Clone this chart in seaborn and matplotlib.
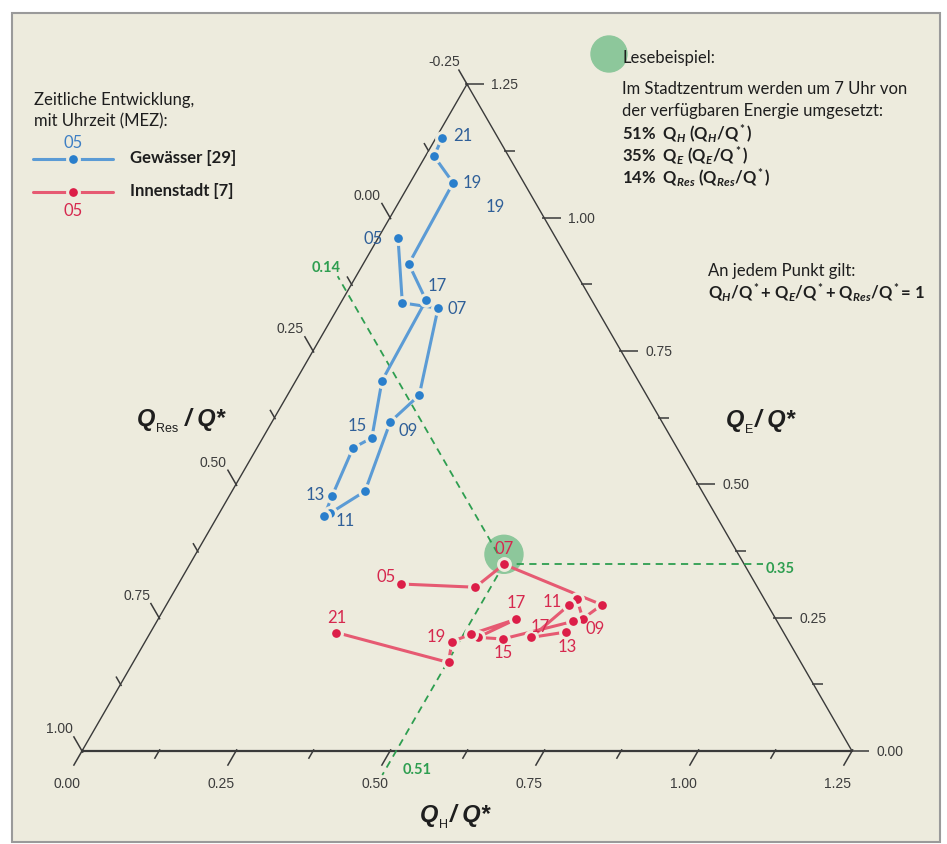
import numpy as np
import pandas as pd
import seaborn as sns
import matplotlib.pyplot as plt
from matplotlib.patches import Circle, Rectangle

# hourly values (MEZ): Q_H/Q* and Q_E/Q*
hours = ['05', '06', '07', '08', '09', '10', '11', '12', '13',
         '14', '15', '16', '17', '18', '19', '20', '21']
gew_qh = [0.032, 0.100, 0.163, 0.214, 0.192, 0.216, 0.180, 0.173, 0.167,
          0.156, 0.177, 0.140, 0.136, 0.074, 0.070, 0.014, 0.010]
gew_qe = [0.962, 0.840, 0.830, 0.667, 0.617, 0.487, 0.446, 0.440, 0.478,
          0.568, 0.587, 0.694, 0.845, 0.913, 1.065, 1.115, 1.149]
inn_qh = [0.362, 0.485, 0.510, 0.707, 0.689, 0.661, 0.654, 0.623, 0.674,
          0.676, 0.578, 0.536, 0.581, 0.522, 0.498, 0.512, 0.302]
inn_qe = [0.313, 0.307, 0.350, 0.274, 0.248, 0.285, 0.274, 0.213, 0.223,
          0.243, 0.210, 0.213, 0.247, 0.219, 0.205, 0.166, 0.222]

# reading example (Innenstadt, 07 Uhr)
ex_qh, ex_qe, ex_qres = 0.51, 0.35, 0.14

major = [0.0, 0.25, 0.5, 0.75, 1.0, 1.25]
minor = [0.125, 0.375, 0.625, 0.875, 1.125]
res_major = [-0.25, 0.0, 0.25, 0.5, 0.75, 1.0]
res_minor = [-0.125, 0.125, 0.375, 0.625, 0.875]

# label offsets in pixels (right, down)
gew_labels = {'05': (-25, 0), '07': (19, 0), '09': (18, 8), '11': (15, 7),
              '13': (-17, -2), '15': (-15, -13), '17': (11, -15),
              '19': (19, -1), '21': (21, -3)}
gew_extra = [('19', '19', (42, 23))]
inn_labels = {'05': (-15, -8), '07': (0, -16), '09': (12, 9), '11': (-17, -4),
              '13': (1, 14), '15': (0, 13), '17': (0, -17), '19': (-16, -6),
              '21': (0, -16)}
inn_extra = [('17', '12', (9, -11))]

bg = '#EDEBDD'
axc = '#3A3A3A'
blue_line, blue_pt, blue_txt = '#5B9BD5', '#2A7FCC', '#2F5F98'
red_line, red_pt, red_txt = '#E65A72', '#DC1E48', '#D6284E'
green, green_fill = '#2E9E50', '#8DC79B'

sns.set_style('white')
plt.rcParams['font.family'] = ['Lato', 'DejaVu Sans']
plt.rcParams['mathtext.fontset'] = 'custom'
plt.rcParams['mathtext.rm'] = 'Lato:bold'
plt.rcParams['mathtext.it'] = 'Lato:italic:bold'
plt.rcParams['mathtext.sf'] = 'Liberation Sans'

H = np.sqrt(3) / 2
S = 616.0  # pixels per unit


def tern(qh, qe):
    qh = np.asarray(qh, dtype=float)
    qe = np.asarray(qe, dtype=float)
    return qh + qe / 2, qe * H


def px(x, y):
    return (x - 82) / S, (752 - y) / S


fig = plt.figure(figsize=(9.47, 8.45), dpi=100)
fig.patch.set_facecolor('white')
ax = fig.add_axes([0, 0, 1, 1])
ax.axis('off')

x0, y0 = px(12, 843)
ax.add_patch(Rectangle((x0, y0), (940 - 12) / S, (843 - 14) / S,
                       facecolor=bg, edgecolor='#9A9A9A', lw=1.5, zorder=0))

# triangle
tx, ty = tern([0, 1.25, 0, 0], [0, 0, 1.25, 0])
ax.plot(tx, ty, color=axc, lw=1.0, zorder=1)
ax.plot(tx[:2], ty[:2], color=axc, lw=1.6, zorder=1)


def tick(x, y, dx, dy, length, lw=1.1):
    L = length / S
    ax.plot([x - dx * 2 / S, x + dx * L], [y - dy * 2 / S, y + dy * L],
            color=axc, lw=lw, solid_capstyle='butt', zorder=1)
    return x + dx * L, y + dy * L


tkw = dict(fontsize=10, color='#3C3C3C', family='Liberation Sans')
for v in major:
    x, y = tern(v, 0)
    ex, ey = tick(x, y, -0.5, -H, 17)
    ax.text(ex - 6 / S, ey - 17 / S, f'{v:.2f}', ha='center', va='center', **tkw)
    x, y = tern(1.25 - v, v)
    ex, ey = tick(x, y, 1, 0, 17)
    ax.text(ex + 7 / S, ey, f'{v:.2f}', ha='left', va='center', **tkw)
for r in res_major:
    x, y = tern(0, 1 - r)
    ex, ey = tick(x, y, -0.5, H, 17)
    ax.text(ex - 14 / S, ey + 8 / S, f'{r:.2f}', ha='center', va='center', **tkw)
for v in minor:
    tick(*tern(v, 0), -0.5, -H, 9)
    tick(*tern(1.25 - v, v), 1, 0, 9)
for r in res_minor:
    tick(*tern(0, 1 - r), -0.5, H, 9)


# axis titles: Q, small subscript, "/ Q*"
def axis_title(xq, yq, sub, xslash):
    big = dict(fontsize=17, fontweight='bold', fontstyle='italic',
               family='Liberation Sans', color='#1E1E1E', va='center', ha='left')
    ax.text(*px(xq, yq), 'Q', **big)
    ax.text(*px(xq + 19, yq + 9), sub, fontsize=9, family='Liberation Sans',
            color='#1E1E1E', va='center', ha='left')
    ax.text(*px(xslash, yq), '/ Q*', **big)


axis_title(137, 420, 'Res', 185)
axis_title(726, 421, 'E', 755)
axis_title(420, 816, 'H', 450)

# reading-example guides
exx, exy = tern(ex_qh, ex_qe)
ax.add_patch(Circle((exx, exy + 10 / S), 19 / S, color=green_fill, zorder=2))
gkw = dict(color=green, lw=1.3, ls=(0, (4, 3)), zorder=2)
gx, gy = tern([ex_qh, -0.03], [ex_qe, ex_qe + ex_qh + 0.03])
ax.plot(gx, gy, **gkw)
gx, gy = tern([ex_qh, 0.93], [ex_qe, ex_qe])
ax.plot(gx, gy, **gkw)
gx, gy = tern([ex_qh, ex_qh], [ex_qe, -0.045])
ax.plot(gx, gy, **gkw)
lkw = dict(color=green, fontsize=10.5, fontweight='bold', ha='center', va='center')
ax.text(*px(326, 268), f'{ex_qres:.2f}', **lkw)
ax.text(*px(780, 569), f'{ex_qe:.2f}', **lkw)
ax.text(*px(417, 770), f'{ex_qh:.2f}', **lkw)

# data
df_g = pd.DataFrame({'hour': hours, 'qh': gew_qh, 'qe': gew_qe})
df_g['x'], df_g['y'] = tern(df_g.qh, df_g.qe)
df_i = pd.DataFrame({'hour': hours, 'qh': inn_qh, 'qe': inn_qe})
df_i['x'], df_i['y'] = tern(df_i.qh, df_i.qe)

for df, lc, pc in [(df_g, blue_line, blue_pt), (df_i, red_line, red_pt)]:
    sns.lineplot(data=df, x='x', y='y', sort=False, estimator=None, ax=ax,
                 color=lc, lw=2.2, marker='o', markersize=8.5,
                 markerfacecolor=pc, markeredgecolor=bg, markeredgewidth=2.2,
                 legend=False, zorder=3)


def label(df, hour, text, off, col):
    row = df[df.hour == hour].iloc[0]
    ax.annotate(text, (row.x, row.y), xytext=(off[0] * 0.72, -off[1] * 0.72),
                textcoords='offset points', ha='center', va='center',
                color=col, fontsize=12, zorder=4)


for h, off in gew_labels.items():
    label(df_g, h, h, off, blue_txt)
for t, h, off in gew_extra:
    label(df_g, h, t, off, blue_txt)
for h, off in inn_labels.items():
    label(df_i, h, h, off, red_txt)
for t, h, off in inn_extra:
    label(df_i, h, t, off, red_txt)

# legend
tk = dict(fontsize=12, color='#1E1E1E', va='center', ha='left')
ax.text(*px(34, 100), 'Zeitliche Entwicklung,', **tk)
ax.text(*px(34, 121), 'mit Uhrzeit (MEZ):', **tk)
for yy, lc, pc, tc, name, ly in [(160, blue_line, blue_pt, '#3E7FC4', 'Gewässer [29]', 143),
                                 (193, red_line, red_pt, red_txt, 'Innenstadt [7]', 211)]:
    lx, lyy = zip(px(33, yy), px(113, yy))
    ax.plot(lx, lyy, color=lc, lw=2.2, zorder=3)
    ax.plot(*px(73, yy), 'o', ms=8.5, mfc=pc, mec=bg, mew=2.2, zorder=3)
    ax.text(*px(73, ly), '05', color=tc, fontsize=12, ha='center', va='center')
    ax.text(*px(130, yy - 2), name, fontsize=12, fontweight='bold',
            color='#1E1E1E', va='center', ha='left')

# reading example text
ax.add_patch(Circle(px(609, 55), 18 / S, color=green_fill, zorder=1))
ax.text(*px(622, 58), 'Lesebeispiel:', **tk)
ax.text(*px(622, 89), 'Im Stadtzentrum werden um 7 Uhr von', **tk)
ax.text(*px(622, 111), 'der verfügbaren Energie umgesetzt:', **tk)
bk = dict(tk, fontweight='bold')
ax.text(*px(622, 133), r'51%  Q$_H$ (Q$_H$/Q$^*$)', **bk)
ax.text(*px(622, 155), r'35%  Q$_E$ (Q$_E$/Q$^*$)', **bk)
ax.text(*px(622, 177), r'14%  Q$_{Res}$ (Q$_{Res}$/Q$^*$)', **bk)
ax.text(*px(708, 271), 'An jedem Punkt gilt:', **tk)
ax.text(*px(708, 292), r'Q$_H$/Q$^*$+ Q$_E$/Q$^*$+ Q$_{Res}$/Q$^*$= 1', **bk)

ax.set_xlim(-82 / S, (947 - 82) / S)
ax.set_ylim(-(845 - 752) / S, 752 / S)
fig.savefig('out.png', dpi=100, facecolor='white')
